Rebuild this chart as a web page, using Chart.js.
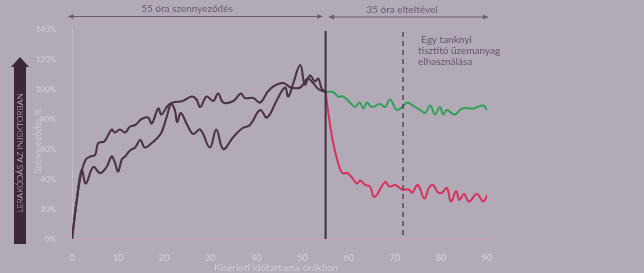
<!DOCTYPE html>
<html>
<head>
<meta charset="utf-8">
<script src="https://cdn.jsdelivr.net/npm/chart.js@4"></script>
<style>
  body { margin: 0; background: #b3aab8; }
  #wrap { width: 644px; height: 273px; position: relative; }
</style>
</head>
<body>
<div id="wrap"><canvas id="chart"></canvas></div>
<script>
// ---------- DATOK ----------
// felső sötét görbe (0-55 óra)
const aX = [0, 1, 2, 3, 4, 5, 5.7, 7, 8.6, 9.3, 10.4, 11.5, 12.6, 13.7, 15.1, 16.5, 17.3, 18.7, 19.4, 20.8, 21.9, 24, 26, 27, 27.8, 29.2, 30.6, 31.7, 32.8, 35, 36.6, 37.5, 39.3, 40.8, 42.4, 43.8, 45.8, 47.5, 49.5, 51.1, 52.3, 53.4, 55];
const aY = [0, 25, 44, 53, 55, 56, 64, 65, 73, 71, 73, 71, 75, 76, 80, 81, 77, 87, 83, 89, 91, 92, 95, 93, 88, 95, 92, 97, 91, 92, 97, 94, 94, 91, 98, 102, 104, 101, 101, 107, 104, 100, 98];

// alsó sötét görbe (0-55 óra)
const bX = [0, 1, 2.1, 3.0, 4.6, 6.1, 7.5, 8.6, 9.3, 10, 10.8, 11.5, 12.6, 13.7, 14.8, 15.8, 17.3, 18.4, 19.4, 20.5, 21.5, 22.3, 22.8, 23.6, 25, 26.3, 27.8, 29.9, 31.3, 32.8, 35, 37, 38.6, 40.8, 42.3, 44.5, 46.2, 46.9, 48, 49.5, 50.5, 51.6, 52.7, 53.4, 54.2, 55];
const bY = [0, 25, 46, 37, 48, 44, 48, 55, 51, 45, 53, 55, 59, 61, 66, 61, 64, 67, 71, 81, 90, 86, 78, 84, 76, 70, 73, 61, 73, 60, 68, 74, 76, 86, 81, 93, 101, 95, 104, 116, 103, 109, 105, 107, 100, 98];

// zöld görbe (55-90 óra)
const gX = [55, 56.6, 57.7, 58.8, 60.3, 61.4, 62.4, 63.2, 64, 65, 66.8, 67.9, 69, 70.4, 71.6, 72.7, 74.4, 75.5, 76.6, 77.7, 78.7, 79.8, 80.5, 81.3, 83, 84.6, 87, 89.2, 90];
const gY = [98, 98, 95, 95, 91, 88, 91, 87, 91, 88, 90, 88, 93, 86, 88, 91, 88, 86, 84, 89, 83, 88, 83, 86, 83, 87, 87, 89, 86];

// piros görbe (55-90 óra)
const rX = [55, 55.5, 56.4, 57.5, 58.6, 59.7, 60.7, 61.8, 62.5, 63.6, 64.6, 65.6, 67.9, 68.8, 70.1, 71.6, 73, 73.8, 75, 76.4, 77.4, 78.3, 79.4, 80.3, 81.3, 82.2, 83.3, 84, 85, 86.1, 87.8, 89.2, 90.2];
const rY = [98, 86, 68, 53, 44, 44, 41, 37, 39, 36, 35, 28, 38, 35, 36, 33, 33, 31, 36, 27, 34, 36, 31, 31, 34, 25, 32, 26, 30, 25, 30, 25, 30];

const yTicks = [0, 20, 40, 60, 80, 100, 120, 140];
const xTicks = [0, 10, 20, 30, 40, 50, 60, 70, 80, 90];

function pts(xs, ys) {
    return xs.map((x, i) => ({ x: x, y: ys[i] }));
}

// ---------- RAJZOLÓ PLUGIN ----------
function arrowLine(ctx, x1, x2, y) {
    ctx.beginPath();
    ctx.moveTo(x1, y);
    ctx.lineTo(x2, y);
    ctx.stroke();
    ctx.beginPath();
    ctx.moveTo(x1, y); ctx.lineTo(x1 + 5, y - 2.5); ctx.lineTo(x1 + 5, y + 2.5); ctx.closePath();
    ctx.moveTo(x2, y); ctx.lineTo(x2 - 5, y - 2.5); ctx.lineTo(x2 - 5, y + 2.5); ctx.closePath();
    ctx.fill();
}

const decor = {
    id: 'decor',
    beforeDraw(c) {
        const ctx = c.ctx;
        ctx.save();
        ctx.fillStyle = '#b3aab8';
        ctx.fillRect(0, 0, c.width, c.height);
        ctx.restore();
    },
    afterDatasetsDraw(c) {
        const ctx = c.ctx;
        const xs = c.scales.x, ys = c.scales.y;
        const top = ys.getPixelForValue(140), bottom = ys.getPixelForValue(0);
        ctx.save();

        // függőleges vonalak
        ctx.strokeStyle = '#3e2f3a';
        ctx.lineWidth = 2;
        const x55 = xs.getPixelForValue(55);
        ctx.beginPath(); ctx.moveTo(x55, top + 2); ctx.lineTo(x55, bottom); ctx.stroke();

        ctx.strokeStyle = '#54404f';
        ctx.lineWidth = 1.4;
        ctx.setLineDash([5, 4]);
        const xd = xs.getPixelForValue(71.8);
        ctx.beginPath(); ctx.moveTo(xd, top + 3); ctx.lineTo(xd, bottom); ctx.stroke();
        ctx.setLineDash([]);

        // felső nyilak
        ctx.strokeStyle = '#6b5a6a';
        ctx.fillStyle = '#6b5a6a';
        ctx.lineWidth = 1;
        arrowLine(ctx, xs.getPixelForValue(-0.8), xs.getPixelForValue(54.3), 16.5);
        arrowLine(ctx, xs.getPixelForValue(55.7), xs.getPixelForValue(90.2), 17);

        ctx.font = '10px Lato';
        ctx.textAlign = 'center';
        ctx.textBaseline = 'middle';
        ctx.fillText('55 óra szennyeződés', 187, 9);
        ctx.fillText('35 óra elteltével', 402, 10);

        // megjegyzés
        ctx.fillStyle = '#665565';
        ctx.textAlign = 'left';
        ctx.fillText('Egy tanknyi', 421, 40);
        ctx.fillText('tisztító üzemanyag', 418, 51);
        ctx.fillText('elhasználása', 418, 62);

        // bal oldali sáv nyíllal
        ctx.fillStyle = '#3b2935';
        ctx.fillRect(14, 66, 12, 178);
        ctx.beginPath();
        ctx.moveTo(20, 57); ctx.lineTo(29, 67); ctx.lineTo(11, 67); ctx.closePath();
        ctx.fill();

        ctx.save();
        ctx.translate(20.5, 153);
        ctx.rotate(-Math.PI / 2);
        ctx.fillStyle = '#ddd5de';
        ctx.font = '300 8.5px Lato';
        ctx.textAlign = 'center';
        ctx.fillText('LERAKÓDÁS AZ INJEKTORBAN', 0, 0);
        ctx.restore();

        // tengelycímek
        ctx.save();
        ctx.translate(38, 141);
        ctx.rotate(-Math.PI / 2);
        ctx.fillStyle = '#cdc4cf';
        ctx.font = '9px Lato';
        ctx.textAlign = 'center';
        ctx.fillText('Szennyeződés %', 0, 0);
        ctx.restore();

        ctx.fillStyle = '#d2cad4';
        ctx.font = '10px Lato';
        ctx.textAlign = 'center';
        ctx.fillText('Kísérleti időtartama órákban', 276, 268);

        ctx.restore();
    }
};

// ---------- GRAFIKON ----------
const chart = new Chart(document.getElementById('chart'), {
    type: 'line',
    data: {
        datasets: [
            { data: pts(aX, aY), borderColor: '#4a3444', borderWidth: 2.1, pointRadius: 0, tension: 0.4 },
            { data: pts(bX, bY), borderColor: '#4a3444', borderWidth: 2.1, pointRadius: 0, tension: 0.4 },
            { data: pts(gX, gY), borderColor: '#2f9f56', borderWidth: 2, pointRadius: 0, tension: 0.4 },
            { data: pts(rX, rY), borderColor: '#d8325a', borderWidth: 2, pointRadius: 0, tension: 0.4 }
        ]
    },
    options: {
        responsive: true,
        maintainAspectRatio: false,
        animation: false,
        layout: { padding: { top: 29, right: 157, left: 0, bottom: 0 } },
        plugins: { legend: { display: false }, tooltip: { enabled: false } },
        scales: {
            x: {
                type: 'linear',
                min: 0, max: 90,
                afterBuildTicks: s => { s.ticks = xTicks.map(v => ({ value: v })); },
                afterFit: s => { s.height = 34; },
                grid: { display: false },
                border: { color: '#c9a2b6', width: 1 },
                ticks: { color: '#d6cfd8', font: { family: 'Lato', size: 9 }, padding: 6 }
            },
            y: {
                min: 0, max: 140,
                afterBuildTicks: s => { s.ticks = yTicks.map(v => ({ value: v })); },
                afterFit: s => { s.width = 72; },
                grid: { display: false },
                border: { color: '#c3bac6', width: 1 },
                ticks: { color: '#d6cfd8', font: { family: 'Lato', size: 8 }, padding: 8, callback: v => v + '%' }
            }
        }
    },
    plugins: [decor]
});
</script>
</body>
</html>
